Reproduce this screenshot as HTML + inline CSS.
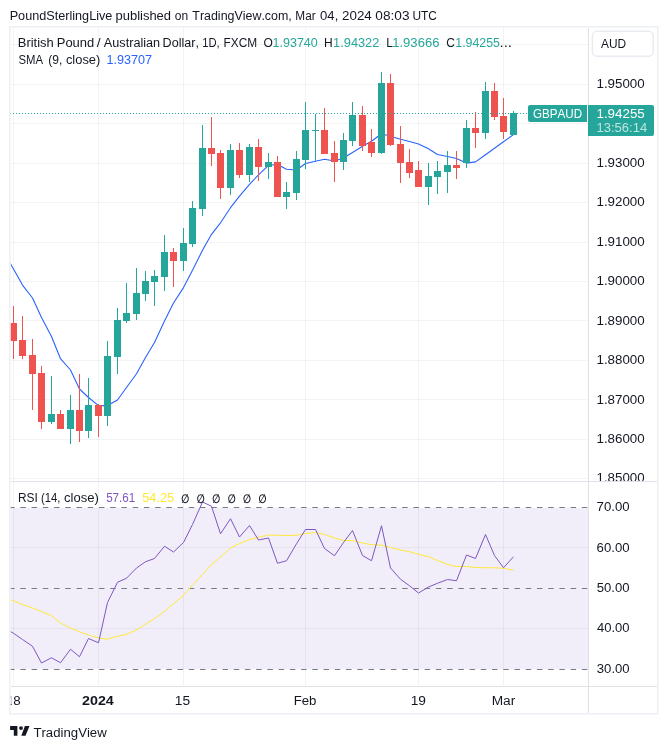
<!DOCTYPE html><html><head><meta charset="utf-8"><title>GBPAUD chart</title>
<style>html,body{margin:0;padding:0;background:#fff}svg{display:block}text{font-family:"Liberation Sans",sans-serif;fill:#131722}</style></head><body>
<svg width="668" height="749" viewBox="0 0 668 749">
<rect width="668" height="749" fill="#fff"/>
<defs><clipPath id="cm"><rect x="10.5" y="27.5" width="577.5" height="453.5"/></clipPath><clipPath id="cr"><rect x="10.5" y="482" width="577.5" height="204"/></clipPath></defs>
<g shape-rendering="crispEdges" fill="#2a2e39" fill-opacity="0.06">
<rect x="13" y="28" width="1" height="658"/>
<rect x="98" y="28" width="1" height="658"/>
<rect x="183" y="28" width="1" height="658"/>
<rect x="305" y="28" width="1" height="658"/>
<rect x="418" y="28" width="1" height="658"/>
<rect x="503" y="28" width="1" height="658"/>
<rect x="11" y="44" width="577" height="1"/>
<rect x="11" y="84" width="577" height="1"/>
<rect x="11" y="123" width="577" height="1"/>
<rect x="11" y="163" width="577" height="1"/>
<rect x="11" y="202" width="577" height="1"/>
<rect x="11" y="242" width="577" height="1"/>
<rect x="11" y="281" width="577" height="1"/>
<rect x="11" y="320" width="577" height="1"/>
<rect x="11" y="360" width="577" height="1"/>
<rect x="11" y="399" width="577" height="1"/>
<rect x="11" y="439" width="577" height="1"/>
<rect x="11" y="478" width="577" height="1"/>
<rect x="11" y="547" width="577" height="1"/>
<rect x="11" y="628" width="577" height="1"/>
</g>
<rect x="10.5" y="508" width="577.5" height="161" fill="#7e57c2" fill-opacity="0.1"/>
<g clip-path="url(#cr)" stroke="#787b86" stroke-width="1" stroke-dasharray="5.5 5.73" fill="none">
<line x1="9.13" y1="507.5" x2="588" y2="507.5"/>
<line x1="9.13" y1="588.5" x2="588" y2="588.5"/>
<line x1="9.13" y1="669.5" x2="588" y2="669.5"/>
</g>
<path clip-path="url(#cm)" d="M10 263 L13.5 269 L22.5 285.1 L32.5 298 L41.5 317.5 L51.5 336.5 L60.5 358.7 L70.5 370 L79.5 389 L88.5 397.5 L98.5 405.6 L107.5 405.6 L117.5 400 L126.5 387.5 L136.5 373.75 L145.5 357.5 L154.5 342.5 L164.5 321 L173.5 303 L183.5 287.6 L192.5 270.2 L202.5 250.3 L211.5 234.3 L220.5 222.8 L230.5 207.7 L239.5 196.1 L249.5 184.3 L258.5 174.8 L268.5 165.3 L277.5 164.5 L286.5 169.25 L296.5 170 L305.5 163.5 L315.5 161.25 L324.5 159.25 L334.5 161 L343.5 158 L352.5 152.5 L362.5 146.25 L371.5 141.25 L381.5 133.75 L390.5 136.25 L400.5 139.25 L409.5 141.5 L418.5 144 L428.5 148.75 L437.5 154.5 L447.5 156.5 L456.5 158.5 L466.5 163.1 L475.5 161.9 L485.5 154.7 L494.5 148.2 L503.5 141.7 L513.5 134.6" fill="none" stroke="#2962ff" stroke-width="1.1" stroke-linejoin="round"/>
<g clip-path="url(#cm)" shape-rendering="crispEdges">
<rect x="13" y="306" width="1" height="53" fill="#ef5350"/>
<rect x="10" y="323" width="7" height="18" fill="#ef5350"/>
<rect x="22" y="316" width="1" height="42.5" fill="#ef5350"/>
<rect x="19" y="340" width="7" height="15.5" fill="#ef5350"/>
<rect x="32" y="339" width="1" height="71" fill="#ef5350"/>
<rect x="29" y="355" width="7" height="19" fill="#ef5350"/>
<rect x="41" y="366" width="1" height="63" fill="#ef5350"/>
<rect x="38" y="373" width="7" height="49" fill="#ef5350"/>
<rect x="51" y="376" width="1" height="48" fill="#26a69a"/>
<rect x="48" y="414" width="7" height="8" fill="#26a69a"/>
<rect x="60" y="410" width="1" height="19" fill="#ef5350"/>
<rect x="57" y="414" width="7" height="15" fill="#ef5350"/>
<rect x="70" y="395" width="1" height="49" fill="#26a69a"/>
<rect x="67" y="410" width="7" height="19" fill="#26a69a"/>
<rect x="79" y="374" width="1" height="68" fill="#ef5350"/>
<rect x="76" y="410" width="7" height="21" fill="#ef5350"/>
<rect x="88" y="378" width="1" height="60" fill="#26a69a"/>
<rect x="85" y="405" width="7" height="26" fill="#26a69a"/>
<rect x="98" y="404" width="1" height="33" fill="#ef5350"/>
<rect x="95" y="405" width="7" height="11" fill="#ef5350"/>
<rect x="107" y="341" width="1" height="85" fill="#26a69a"/>
<rect x="104" y="356" width="7" height="60" fill="#26a69a"/>
<rect x="117" y="308" width="1" height="66" fill="#26a69a"/>
<rect x="114" y="320" width="7" height="36.5" fill="#26a69a"/>
<rect x="126" y="283" width="1" height="40" fill="#26a69a"/>
<rect x="123" y="313" width="7" height="8" fill="#26a69a"/>
<rect x="136" y="268" width="1" height="52" fill="#26a69a"/>
<rect x="133" y="293" width="7" height="21" fill="#26a69a"/>
<rect x="145" y="271" width="1" height="30" fill="#26a69a"/>
<rect x="142" y="281" width="7" height="13" fill="#26a69a"/>
<rect x="154" y="270" width="1" height="36" fill="#26a69a"/>
<rect x="151" y="276" width="7" height="6" fill="#26a69a"/>
<rect x="164" y="235" width="1" height="56" fill="#26a69a"/>
<rect x="161" y="252" width="7" height="25" fill="#26a69a"/>
<rect x="173" y="248" width="1" height="39" fill="#ef5350"/>
<rect x="170" y="252" width="7" height="9" fill="#ef5350"/>
<rect x="183" y="228" width="1" height="43" fill="#26a69a"/>
<rect x="180" y="243" width="7" height="18" fill="#26a69a"/>
<rect x="192" y="201" width="1" height="46" fill="#26a69a"/>
<rect x="189" y="208" width="7" height="36" fill="#26a69a"/>
<rect x="202" y="125" width="1" height="91" fill="#26a69a"/>
<rect x="199" y="148" width="7" height="61" fill="#26a69a"/>
<rect x="211" y="117" width="1" height="49" fill="#ef5350"/>
<rect x="208" y="148" width="7" height="6" fill="#ef5350"/>
<rect x="220" y="150" width="1" height="49" fill="#ef5350"/>
<rect x="217" y="153" width="7" height="35" fill="#ef5350"/>
<rect x="230" y="144" width="1" height="51" fill="#26a69a"/>
<rect x="227" y="150" width="7" height="38" fill="#26a69a"/>
<rect x="239" y="143" width="1" height="35" fill="#ef5350"/>
<rect x="236" y="150" width="7" height="25" fill="#ef5350"/>
<rect x="249" y="144" width="1" height="38" fill="#26a69a"/>
<rect x="246" y="147" width="7" height="28" fill="#26a69a"/>
<rect x="258" y="139" width="1" height="42" fill="#ef5350"/>
<rect x="255" y="147" width="7" height="20" fill="#ef5350"/>
<rect x="268" y="153" width="1" height="26" fill="#26a69a"/>
<rect x="265" y="162" width="7" height="5" fill="#26a69a"/>
<rect x="277" y="156" width="1" height="41" fill="#ef5350"/>
<rect x="274" y="162" width="7" height="35" fill="#ef5350"/>
<rect x="286" y="182" width="1" height="27" fill="#26a69a"/>
<rect x="283" y="192" width="7" height="5" fill="#26a69a"/>
<rect x="296" y="151" width="1" height="49" fill="#26a69a"/>
<rect x="293" y="159" width="7" height="34" fill="#26a69a"/>
<rect x="305" y="102" width="1" height="67" fill="#26a69a"/>
<rect x="302" y="130" width="7" height="30" fill="#26a69a"/>
<rect x="315" y="114" width="1" height="47" fill="#26a69a"/>
<rect x="312" y="130" width="7" height="1" fill="#26a69a"/>
<rect x="324" y="108" width="1" height="46" fill="#ef5350"/>
<rect x="321" y="130" width="7" height="24" fill="#ef5350"/>
<rect x="334" y="141" width="1" height="41" fill="#ef5350"/>
<rect x="331" y="153" width="7" height="9" fill="#ef5350"/>
<rect x="343" y="133" width="1" height="37" fill="#26a69a"/>
<rect x="340" y="140" width="7" height="22" fill="#26a69a"/>
<rect x="352" y="102" width="1" height="44" fill="#26a69a"/>
<rect x="349" y="115" width="7" height="26" fill="#26a69a"/>
<rect x="362" y="106" width="1" height="45" fill="#ef5350"/>
<rect x="359" y="115" width="7" height="31" fill="#ef5350"/>
<rect x="371" y="129" width="1" height="28" fill="#ef5350"/>
<rect x="368" y="142" width="7" height="11" fill="#ef5350"/>
<rect x="381" y="72" width="1" height="82" fill="#26a69a"/>
<rect x="378" y="83" width="7" height="70" fill="#26a69a"/>
<rect x="390" y="74" width="1" height="72" fill="#ef5350"/>
<rect x="387" y="83" width="7" height="62" fill="#ef5350"/>
<rect x="400" y="126" width="1" height="57" fill="#ef5350"/>
<rect x="397" y="144" width="7" height="19" fill="#ef5350"/>
<rect x="409" y="149" width="1" height="29" fill="#ef5350"/>
<rect x="406" y="162" width="7" height="11" fill="#ef5350"/>
<rect x="418" y="161" width="1" height="26" fill="#ef5350"/>
<rect x="415" y="170" width="7" height="17" fill="#ef5350"/>
<rect x="428" y="163" width="1" height="42" fill="#26a69a"/>
<rect x="425" y="176" width="7" height="11" fill="#26a69a"/>
<rect x="437" y="161" width="1" height="33" fill="#26a69a"/>
<rect x="434" y="171" width="7" height="6" fill="#26a69a"/>
<rect x="447" y="151" width="1" height="42" fill="#26a69a"/>
<rect x="444" y="165" width="7" height="7" fill="#26a69a"/>
<rect x="456" y="151" width="1" height="28" fill="#ef5350"/>
<rect x="453" y="165" width="7" height="3" fill="#ef5350"/>
<rect x="466" y="120" width="1" height="48" fill="#26a69a"/>
<rect x="463" y="128" width="7" height="35" fill="#26a69a"/>
<rect x="475" y="112" width="1" height="36" fill="#ef5350"/>
<rect x="472" y="128" width="7" height="5" fill="#ef5350"/>
<rect x="485" y="82" width="1" height="57" fill="#26a69a"/>
<rect x="482" y="91" width="7" height="42" fill="#26a69a"/>
<rect x="494" y="83" width="1" height="37" fill="#ef5350"/>
<rect x="491" y="91" width="7" height="26" fill="#ef5350"/>
<rect x="503" y="98" width="1" height="41" fill="#ef5350"/>
<rect x="500" y="116" width="7" height="16" fill="#ef5350"/>
<rect x="513" y="111" width="1" height="24" fill="#26a69a"/>
<rect x="510" y="113" width="7" height="22" fill="#26a69a"/>
</g>
<path clip-path="url(#cr)" d="M10 599.5 L22.5 604.5 L32.5 608 L41.5 611.5 L51.5 615.75 L60.5 623 L70.5 628 L79.5 631.75 L88.5 635 L98.5 638 L107.5 639.25 L117.5 636.25 L126.5 634.25 L136.5 630 L145.5 624.25 L154.5 618.75 L164.5 611.5 L173.5 603.5 L183.5 595.5 L192.5 585 L202.5 574.5 L211.5 564.5 L220.5 557 L230.5 548 L239.5 543.5 L249.5 539.5 L258.5 537.25 L268.5 535 L277.5 535.25 L286.5 535.5 L296.5 535.25 L305.5 533.5 L315.5 532.5 L324.5 534.5 L334.5 538 L343.5 540.5 L352.5 540.5 L362.5 543 L371.5 544.75 L381.5 545 L390.5 547.5 L400.5 550 L409.5 551.75 L418.5 554.25 L428.5 556.75 L437.5 560.5 L447.5 564.5 L456.5 566.5 L466.5 566.5 L475.5 567.5 L485.5 567.75 L494.5 567.75 L503.5 568.25 L513.5 570.25" fill="none" stroke="#ffe838" stroke-width="1" stroke-linejoin="round"/>
<path clip-path="url(#cr)" d="M10 631.25 L13.5 633.25 L22.5 639.5 L32.5 646.25 L41.5 663 L51.5 657.75 L60.5 662.75 L70.5 649.25 L79.5 656.75 L88.5 638.5 L98.5 642.75 L107.5 602.5 L117.5 582.25 L126.5 578.25 L136.5 568 L145.5 561.75 L154.5 558.5 L164.5 546.25 L173.5 552 L183.5 542.5 L192.5 524.5 L202.5 502 L211.5 506.25 L220.5 533.75 L230.5 518.75 L239.5 537 L249.5 525.5 L258.5 540 L268.5 538 L277.5 563.25 L286.5 560.75 L296.5 543.75 L305.5 529.5 L315.5 529.5 L324.5 548.5 L334.5 555.75 L343.5 542.5 L352.5 530.5 L362.5 555.5 L371.5 560.75 L381.5 525.75 L390.5 568 L400.5 579.25 L409.5 585.75 L418.5 593 L428.5 587 L437.5 583.25 L447.5 579.5 L456.5 580.75 L466.5 555 L475.5 558.5 L485.5 534.5 L494.5 555.5 L503.5 567.75 L513.5 556.75" fill="none" stroke="#7e57c2" stroke-width="1" stroke-linejoin="round"/>
<line x1="10" y1="113.5" x2="588" y2="113.5" stroke="#26a69a" stroke-width="1" stroke-dasharray="1 2"/>
<g shape-rendering="crispEdges">
</g><g fill="#eef0f6">
<rect x="9" y="26" width="649.6" height="1.6"/>
<rect x="9" y="713" width="649.6" height="1.6"/>
<rect x="9" y="26" width="1.6" height="688.6"/>
<rect x="657" y="26" width="1.6" height="688.6"/>
</g><g shape-rendering="crispEdges">
<rect x="588" y="28" width="1" height="685" fill="#e1e1e5"/>
<rect x="11" y="686" width="646" height="1" fill="#e1e1e5"/>
<rect x="11" y="481" width="646" height="1" fill="#e0e3eb"/>
</g>
<text x="9.66" y="19.8" font-size="12" style="font-kerning:none;" textLength="102.70" lengthAdjust="spacingAndGlyphs">PoundSterlingLive</text>
<text x="115.56" y="19.8" font-size="12" style="font-kerning:none;" textLength="55.47" lengthAdjust="spacingAndGlyphs">published</text>
<text x="174.89" y="19.8" font-size="12" style="font-kerning:none;" textLength="13.39" lengthAdjust="spacingAndGlyphs">on</text>
<text x="192.32" y="19.8" font-size="12" style="font-kerning:none;" textLength="99.50" lengthAdjust="spacingAndGlyphs">TradingView.com,</text>
<text x="295.33" y="19.8" font-size="12" style="font-kerning:none;" textLength="20.26" lengthAdjust="spacingAndGlyphs">Mar</text>
<text x="320.09" y="19.8" font-size="12" style="font-kerning:none;" textLength="18.19" lengthAdjust="spacingAndGlyphs">04,</text>
<text x="342.03" y="19.8" font-size="12" style="font-kerning:none;" textLength="29.76" lengthAdjust="spacingAndGlyphs">2024</text>
<text x="375.37" y="19.8" font-size="12" style="font-kerning:none;" textLength="34.13" lengthAdjust="spacingAndGlyphs">08:03</text>
<text x="412.48" y="19.8" font-size="12" style="font-kerning:none;" textLength="24.47" lengthAdjust="spacingAndGlyphs">UTC</text>
<text x="17.84" y="47" font-size="12" style="font-kerning:none;" textLength="35.90" lengthAdjust="spacingAndGlyphs">British</text>
<text x="56.74" y="47" font-size="12" style="font-kerning:none;" textLength="37.50" lengthAdjust="spacingAndGlyphs">Pound</text>
<text x="96.70" y="47" font-size="12" style="font-kerning:none;" textLength="3.90" lengthAdjust="spacingAndGlyphs">/</text>
<text x="103.88" y="47" font-size="12" style="font-kerning:none;" textLength="56.25" lengthAdjust="spacingAndGlyphs">Australian</text>
<text x="162.57" y="47" font-size="12" style="font-kerning:none;" textLength="36.36" lengthAdjust="spacingAndGlyphs">Dollar,</text>
<text x="202.25" y="47" font-size="12" style="font-kerning:none;" textLength="17.46" lengthAdjust="spacingAndGlyphs">1D,</text>
<text x="223.53" y="47" font-size="12" style="font-kerning:none;" textLength="33.65" lengthAdjust="spacingAndGlyphs">FXCM</text>
<text x="263.53" y="47" font-size="12" style="font-kerning:none;">O</text>
<text x="272.55" y="47" font-size="12" style="font-kerning:none;fill:#26a69a;" textLength="45.24" lengthAdjust="spacingAndGlyphs">1.93740</text>
<text x="324.12" y="47" font-size="12" style="font-kerning:none;">H</text>
<text x="333.13" y="47" font-size="12" style="font-kerning:none;fill:#26a69a;" textLength="46.22" lengthAdjust="spacingAndGlyphs">1.94322</text>
<text x="386.22" y="47" font-size="12" style="font-kerning:none;">L</text>
<text x="392.20" y="47" font-size="12" style="font-kerning:none;fill:#26a69a;" textLength="47.27" lengthAdjust="spacingAndGlyphs">1.93666</text>
<text x="446.19" y="47" font-size="12" style="font-kerning:none;">C</text>
<text x="455.26" y="47" font-size="12" style="font-kerning:none;fill:#26a69a;" textLength="44.76" lengthAdjust="spacingAndGlyphs">1.94255</text>
<text x="499.41" y="47" font-size="12" style="font-kerning:none;" textLength="12.68" lengthAdjust="spacingAndGlyphs">...</text>
<text x="18.49" y="63.8" font-size="12" style="font-kerning:none;" textLength="24.54" lengthAdjust="spacingAndGlyphs">SMA</text>
<text x="48.25" y="63.8" font-size="12" style="font-kerning:none;" textLength="14.08" lengthAdjust="spacingAndGlyphs">(9,</text>
<text x="65.95" y="63.8" font-size="12" style="font-kerning:none;" textLength="34.35" lengthAdjust="spacingAndGlyphs">close)</text>
<text x="106.54" y="63.8" font-size="12" style="font-kerning:none;fill:#2962ff;" textLength="45.60" lengthAdjust="spacingAndGlyphs">1.93707</text>
<text x="18.02" y="502.1" font-size="12" style="font-kerning:none;" textLength="19.82" lengthAdjust="spacingAndGlyphs">RSI</text>
<text x="41.05" y="502.1" font-size="12" style="font-kerning:none;" textLength="19.47" lengthAdjust="spacingAndGlyphs">(14,</text>
<text x="63.94" y="502.1" font-size="12" style="font-kerning:none;" textLength="34.87" lengthAdjust="spacingAndGlyphs">close)</text>
<text x="106.13" y="502.1" font-size="12" style="font-kerning:none;fill:#7e57c2;" textLength="29.13" lengthAdjust="spacingAndGlyphs">57.61</text>
<text x="142.24" y="502.1" font-size="12" style="font-kerning:none;fill:#ffe838;" textLength="31.95" lengthAdjust="spacingAndGlyphs">54.25</text>
<text transform="translate(185.3 502.6) scale(0.93 1.22)" x="0" y="0" font-size="10" font-weight="bold" text-anchor="middle" style="font-family:'DejaVu Sans',sans-serif">∅</text>
<text transform="translate(200.74 502.6) scale(0.93 1.22)" x="0" y="0" font-size="10" font-weight="bold" text-anchor="middle" style="font-family:'DejaVu Sans',sans-serif">∅</text>
<text transform="translate(216.18 502.6) scale(0.93 1.22)" x="0" y="0" font-size="10" font-weight="bold" text-anchor="middle" style="font-family:'DejaVu Sans',sans-serif">∅</text>
<text transform="translate(231.62 502.6) scale(0.93 1.22)" x="0" y="0" font-size="10" font-weight="bold" text-anchor="middle" style="font-family:'DejaVu Sans',sans-serif">∅</text>
<text transform="translate(247.06 502.6) scale(0.93 1.22)" x="0" y="0" font-size="10" font-weight="bold" text-anchor="middle" style="font-family:'DejaVu Sans',sans-serif">∅</text>
<text transform="translate(262.5 502.6) scale(0.93 1.22)" x="0" y="0" font-size="10" font-weight="bold" text-anchor="middle" style="font-family:'DejaVu Sans',sans-serif">∅</text>
<text x="596.48" y="88" font-size="12" style="font-kerning:none;" textLength="48.24" lengthAdjust="spacingAndGlyphs">1.95000</text>
<text x="596.48" y="167" font-size="12" style="font-kerning:none;" textLength="48.24" lengthAdjust="spacingAndGlyphs">1.93000</text>
<text x="596.48" y="206" font-size="12" style="font-kerning:none;" textLength="48.24" lengthAdjust="spacingAndGlyphs">1.92000</text>
<text x="596.48" y="246" font-size="12" style="font-kerning:none;" textLength="48.24" lengthAdjust="spacingAndGlyphs">1.91000</text>
<text x="596.48" y="285" font-size="12" style="font-kerning:none;" textLength="48.24" lengthAdjust="spacingAndGlyphs">1.90000</text>
<text x="596.48" y="325" font-size="12" style="font-kerning:none;" textLength="48.24" lengthAdjust="spacingAndGlyphs">1.89000</text>
<text x="596.48" y="364" font-size="12" style="font-kerning:none;" textLength="48.24" lengthAdjust="spacingAndGlyphs">1.88000</text>
<text x="596.48" y="404" font-size="12" style="font-kerning:none;" textLength="48.24" lengthAdjust="spacingAndGlyphs">1.87000</text>
<text x="596.48" y="443" font-size="12" style="font-kerning:none;" textLength="48.24" lengthAdjust="spacingAndGlyphs">1.86000</text>
<clipPath id="cp"><rect x="589" y="28" width="68" height="453"/></clipPath><g clip-path="url(#cp)">
<text x="596.48" y="481.6" font-size="12" style="font-kerning:none;" textLength="48.24" lengthAdjust="spacingAndGlyphs">1.85000</text>
</g>
<text x="596.62" y="511" font-size="12" style="font-kerning:none;" textLength="32.99" lengthAdjust="spacingAndGlyphs">70.00</text>
<text x="596.63" y="551.6" font-size="12" style="font-kerning:none;" textLength="32.98" lengthAdjust="spacingAndGlyphs">60.00</text>
<text x="596.77" y="592" font-size="12" style="font-kerning:none;" textLength="32.84" lengthAdjust="spacingAndGlyphs">50.00</text>
<text x="597.00" y="632.2" font-size="12" style="font-kerning:none;" textLength="32.61" lengthAdjust="spacingAndGlyphs">40.00</text>
<text x="596.80" y="673" font-size="12" style="font-kerning:none;" textLength="32.81" lengthAdjust="spacingAndGlyphs">30.00</text>
<rect x="592.35" y="31.35" width="60.9" height="24.8" rx="4.5" fill="#fff" stroke="#e9ebf2" stroke-width="1.5"/>
<text x="600.98" y="48" font-size="12" style="font-kerning:none;" textLength="25.09" lengthAdjust="spacingAndGlyphs">AUD</text>
<path d="M530 105h57v17h-57a2 2 0 0 1-2-2v-13a2 2 0 0 1 2-2z" fill="#26a69a"/>
<text x="532.91" y="117.8" font-size="12" style="font-kerning:none;fill:#fff;" textLength="49.14" lengthAdjust="spacingAndGlyphs">GBPAUD</text>
<path d="M588 105h64a2 2 0 0 1 2 2v27a2 2 0 0 1-2 2h-64z" fill="#26a69a"/>
<text x="596.48" y="118" font-size="12" style="font-kerning:none;fill:#fff;" textLength="48.28" lengthAdjust="spacingAndGlyphs">1.94255</text>
<text x="596.51" y="132" font-size="12" style="font-kerning:none;fill:#fff;" textLength="50.67" lengthAdjust="spacingAndGlyphs" fill-opacity="0.7">13:56:14</text>
<defs><clipPath id="ct"><rect x="10.5" y="687" width="577.5" height="26"/></clipPath></defs>
<g clip-path="url(#ct)">
<text x="10.29" y="704.5" font-size="12" style="font-kerning:none;" textLength="1.55" lengthAdjust="spacingAndGlyphs">1</text>
<text x="13.17" y="704.5" font-size="12" style="font-kerning:none;" textLength="7.41" lengthAdjust="spacingAndGlyphs">8</text>
<text x="82.00" y="704.5" font-size="12" font-weight="bold" style="font-kerning:none;" textLength="31.82" lengthAdjust="spacingAndGlyphs">2024</text>
<text x="174.85" y="704.5" font-size="12" style="font-kerning:none;" textLength="15.33" lengthAdjust="spacingAndGlyphs">15</text>
<text x="293.72" y="704.5" font-size="12" style="font-kerning:none;" textLength="22.74" lengthAdjust="spacingAndGlyphs">Feb</text>
<text x="410.65" y="704.5" font-size="12" style="font-kerning:none;" textLength="15.30" lengthAdjust="spacingAndGlyphs">19</text>
<text x="491.68" y="704.5" font-size="12" style="font-kerning:none;" textLength="23.55" lengthAdjust="spacingAndGlyphs">Mar</text>
</g>
<g fill="#131722"><path d="M10.1 726h7.3v9.7h-3.6v-5.8h-3.7z"/><circle cx="21" cy="728.1" r="1.9"/><path d="M24.9 726h4.6l-4 9.7h-4.2z"/></g>
<text x="33.40" y="736.6" font-size="12.5" style="font-kerning:none;" textLength="73.36" lengthAdjust="spacingAndGlyphs">TradingView</text>
</svg></body></html>
